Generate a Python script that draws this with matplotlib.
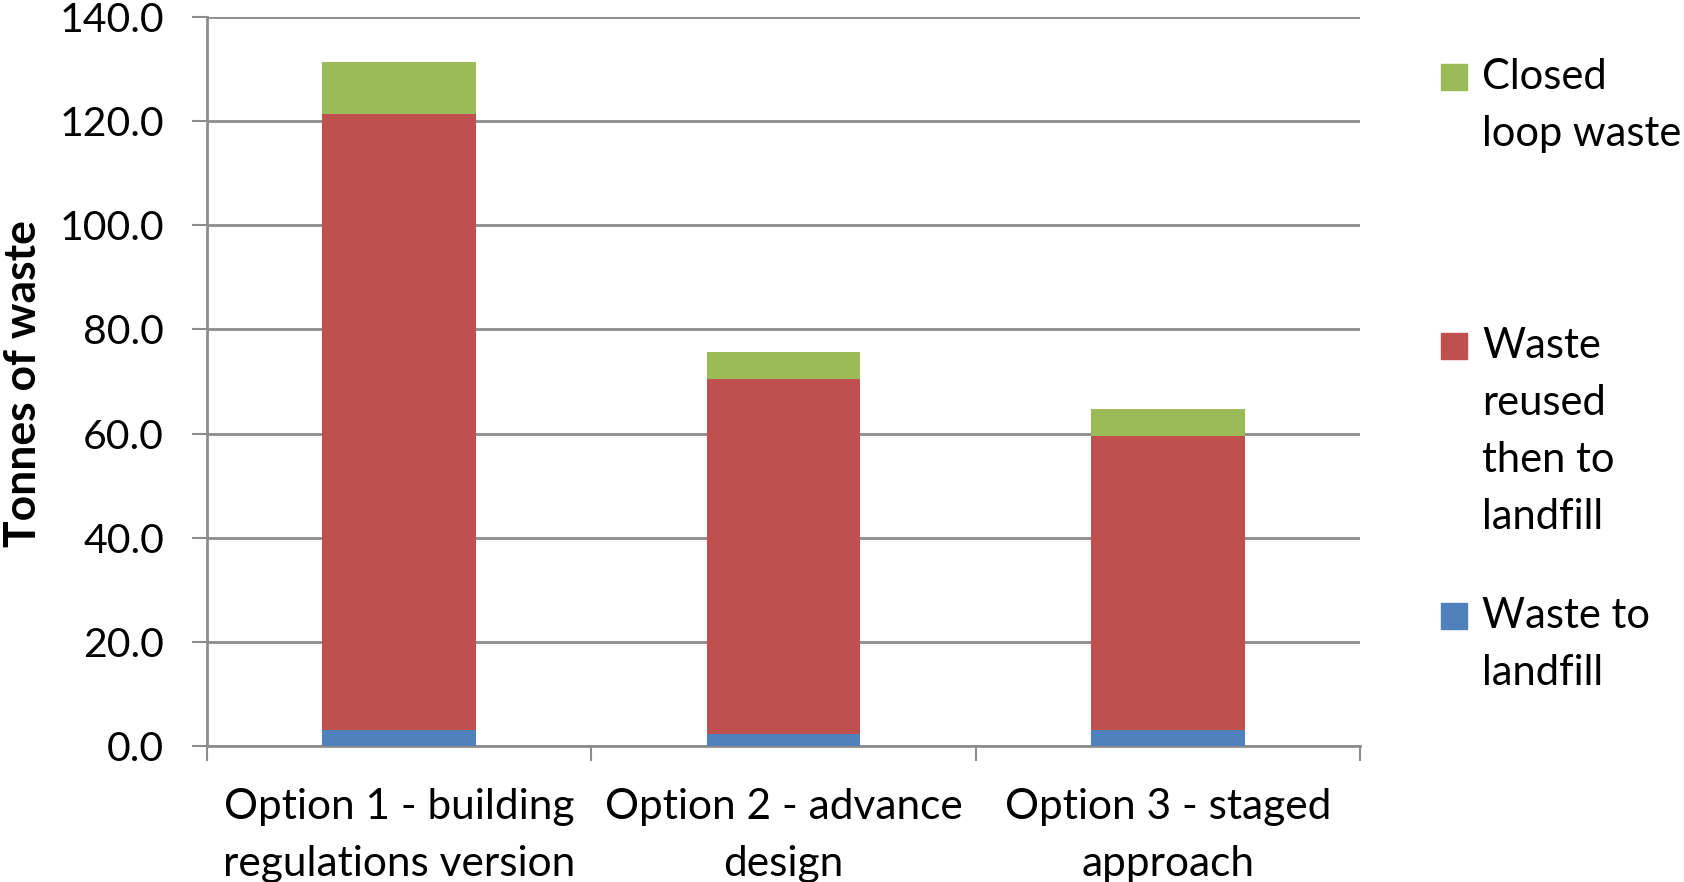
import matplotlib
matplotlib.use("Agg")
import matplotlib.pyplot as plt
from matplotlib.patches import Rectangle
import numpy as np

plt.rcParams['font.family'] = ['Lato', 'DejaVu Sans']

categories = ["Option 1 - building\nregulations version",
              "Option 2 - advance\ndesign",
              "Option 3 - staged\napproach"]
waste_to_landfill = [3.1, 2.4, 3.1]
reused_then_landfill = [118.2, 68.1, 56.5]
closed_loop = [10.0, 5.1, 5.1]

series_names = ["Waste to landfill", "Waste reused then to landfill", "Closed loop waste"]
legend_lines = [["Closed", "loop waste"],
                ["Waste", "reused", "then to", "landfill"],
                ["Waste to", "landfill"]]
colors = {"blue": "#4F81BD", "red": "#C0504D", "green": "#9BBB59"}
yticks = np.arange(0, 141, 20)

W, H = 1684, 882
fig = plt.figure(figsize=(W / 100, H / 100), dpi=100)
ax = fig.add_axes([207 / W, 1 - 746 / H, (1360 - 207) / W, (746 - 17) / H])

x = np.arange(len(categories))
bw = 0.40
b1 = np.array(waste_to_landfill)
b2 = b1 + np.array(reused_then_landfill)
ax.bar(x, waste_to_landfill, bw, color=colors["blue"], zorder=3)
ax.bar(x, reused_then_landfill, bw, bottom=b1, color=colors["red"], zorder=3)
ax.bar(x, closed_loop, bw, bottom=b2, color=colors["green"], zorder=3)

ax.set_xlim(-0.5, len(categories) - 0.5)
ax.set_ylim(0, 140)
ax.set_yticks(yticks)
ax.set_yticklabels([f"{v:.1f}" for v in yticks], fontsize=29.5)
ax.yaxis.grid(True, color="#8C8C8C", linewidth=2, zorder=0)
ax.set_axisbelow(True)

# category boundary ticks below, labels centered in each category
ax.set_xticks(np.arange(-0.5, len(categories), 1.0))
ax.set_xticklabels([])
ax.set_xticks(x, minor=True)
ax.set_xticklabels(categories, minor=True, fontsize=30.5, linespacing=1.62)
ax.tick_params(axis="x", which="minor", length=0, pad=30)
ax.tick_params(axis="x", which="major", length=11, width=1.5, color="#8C8C8C")
ax.tick_params(axis="y", length=11, width=1.5, color="#8C8C8C", pad=20)

for side in ("top", "right"):
    ax.spines[side].set_visible(False)
for side in ("left", "bottom"):
    ax.spines[side].set_color("#8C8C8C")
    ax.spines[side].set_linewidth(2)

fig.text(23 / W, 1 - 384 / H, "Tonnes of waste", rotation=90, fontsize=32,
         fontweight="bold", ha="center", va="center")

# legend drawn at fixed figure positions
leg_colors = [colors["green"], colors["red"], colors["blue"]]
first_line_y = [77, 346, 616]
line_step = 57
for lines, col, y0 in zip(legend_lines, leg_colors, first_line_y):
    fig.patches.append(Rectangle((1441 / W, 1 - (y0 + 13) / H), 26 / W, 26 / H,
                                 transform=fig.transFigure, color=col))
    for i, t in enumerate(lines):
        fig.text(1482 / W, 1 - (y0 + i * line_step) / H, t, fontsize=30,
                 ha="left", va="center")

fig.savefig("out.png", dpi=100)
